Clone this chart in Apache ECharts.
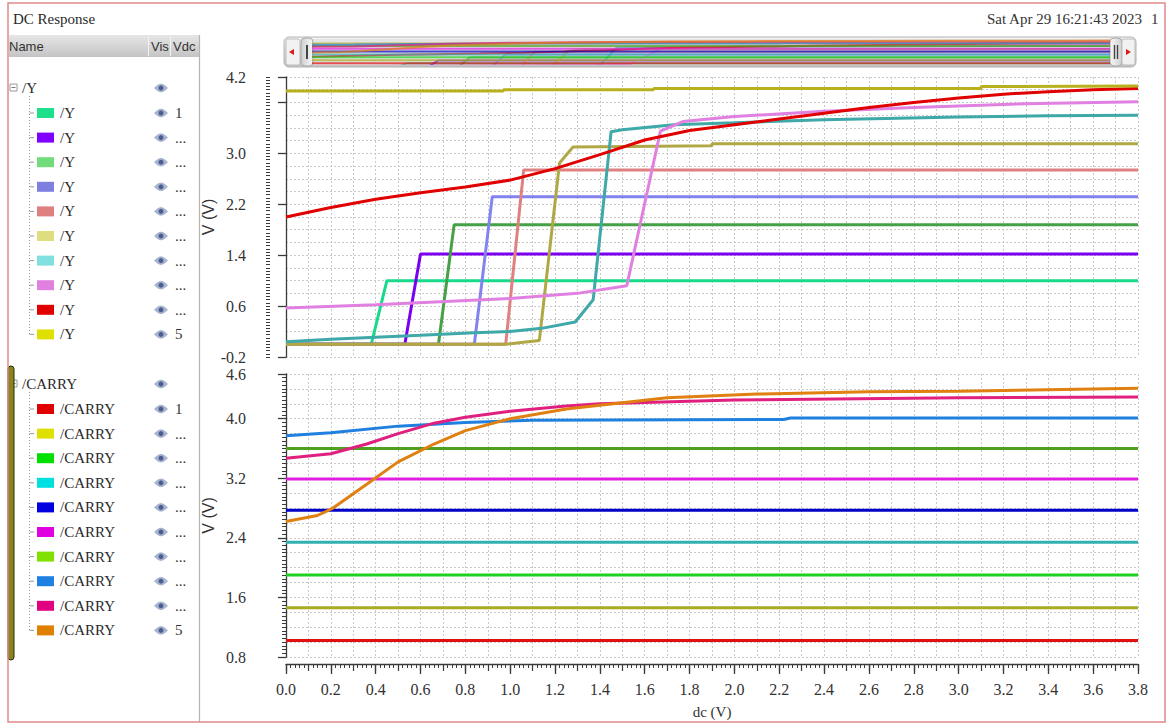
<!DOCTYPE html>
<html>
<head>
<meta charset="utf-8">
<title>DC Response</title>
<script src="https://cdn.jsdelivr.net/npm/echarts/dist/echarts.min.js"></script>
<style>
html, body { margin: 0; padding: 0; background: #fff; }
#main { width: 1166px; height: 724px; }
</style>
</head>
<body>
<div id="main"></div>
<script>
// ---- data (dc sweep in V, output in V) ----
var yNames = ['/Y', '/Y', '/Y', '/Y', '/Y', '/Y', '/Y', '/Y', '/Y', '/Y'];
var carryNames = ['/CARRY', '/CARRY', '/CARRY', '/CARRY', '/CARRY', '/CARRY', '/CARRY', '/CARRY', '/CARRY', '/CARRY'];
var vdcLabels = ['1', '...', '...', '...', '...', '...', '...', '...', '...', '5'];

var ySwatch = ['#1ee08a', '#7f00ff', '#72dc7a', '#7f7fe0', '#e07f7f', '#dede80', '#80e0e0', '#e080e0', '#e00000', '#e0e000'];
var yLine = ['#19d98a', '#7b00f0', '#46a046', '#8282f0', '#e08080', '#b0a844', '#3fa8a8', '#e080e0', '#e00000', '#b8b01c'];
var carrySwatch = ['#e00000', '#e0e000', '#00e000', '#00e0e0', '#0000e0', '#e000e0', '#80e000', '#1e80e0', '#e00080', '#e08000'];
var carryLine = ['#e01010', '#aaaa22', '#20d020', '#30b0b0', '#0000c8', '#e020e0', '#50a020', '#2080e0', '#e0207f', '#e08010'];

// /Y traces
var y1 = [[0, 0], [0.38, 0], [0.45, 1.0], [3.8, 1.0]];
var y2 = [[0, 0], [0.53, 0], [0.60, 1.42], [3.8, 1.42]];
var y3 = [[0, 0], [0.68, 0], [0.75, 1.88], [3.8, 1.88]];
var y4 = [[0, 0], [0.84, 0], [0.92, 2.32], [3.8, 2.32]];
var y5 = [[0, 0], [0.98, 0], [1.06, 2.74], [3.8, 2.74]];
var y6 = [[0, 0], [0.98, 0], [1.13, 0.06], [1.22, 2.85], [1.28, 3.1], [1.9, 3.12], [1.9, 3.15], [3.8, 3.15]];
var y7 = [[0, 0.04], [0.2, 0.08], [0.4, 0.11], [0.6, 0.14], [0.84, 0.18], [1.0, 0.2], [1.14, 0.25], [1.29, 0.35],
          [1.37, 0.7], [1.45, 3.34], [1.5, 3.37], [1.73, 3.45], [2.0, 3.48], [2.4, 3.53], [3.0, 3.57], [3.4, 3.59], [3.8, 3.6]];
var y8 = [[0, 0.57], [0.4, 0.62], [1.0, 0.72], [1.3, 0.8], [1.52, 0.92], [1.67, 3.35], [1.77, 3.5], [2.0, 3.58],
          [2.4, 3.66], [2.8, 3.72], [3.3, 3.78], [3.8, 3.81]];
var y9 = [[0, 2.0], [0.2, 2.15], [0.4, 2.28], [0.6, 2.38], [0.8, 2.47], [1.0, 2.58], [1.2, 2.76], [1.4, 2.98], [1.6, 3.21],
          [1.8, 3.36], [2.0, 3.45], [2.2, 3.54], [2.4, 3.63], [2.6, 3.72], [2.8, 3.8], [3.0, 3.87], [3.2, 3.93], [3.4, 3.97], [3.6, 4.0], [3.8, 4.02]];
var y10 = [[0, 3.98], [0.97, 3.98], [0.97, 4.0], [1.64, 4.0], [1.64, 4.02], [3.1, 4.02], [3.1, 4.05], [3.8, 4.06]];
var yTraces = [y1, y2, y3, y4, y5, y6, y7, y8, y9, y10];

// /CARRY traces
var c1 = [[0, 1.02], [3.8, 1.02]];
var c2 = [[0, 1.46], [3.8, 1.46]];
var c3 = [[0, 1.90], [3.8, 1.90]];
var c4 = [[0, 2.34], [3.8, 2.34]];
var c5 = [[0, 2.77], [3.8, 2.77]];
var c6 = [[0, 3.19], [3.8, 3.19]];
var c7 = [[0, 3.60], [3.8, 3.60]];
var c8 = [[0, 3.77], [0.2, 3.81], [0.5, 3.9], [0.8, 3.95], [1.1, 3.98], [2.22, 3.99], [2.25, 4.01], [3.8, 4.01]];
var c9 = [[0, 3.47], [0.2, 3.53], [0.36, 3.66], [0.5, 3.8], [0.66, 3.94], [0.8, 4.02], [1.0, 4.1], [1.25, 4.17],
          [1.4, 4.2], [2.0, 4.25], [3.0, 4.28], [3.8, 4.29]];
var c10 = [[0, 2.62], [0.14, 2.7], [0.21, 2.8], [0.36, 3.12], [0.5, 3.42], [0.66, 3.66], [0.8, 3.84], [1.0, 4.0],
           [1.25, 4.13], [1.4, 4.18], [1.7, 4.28], [2.1, 4.33], [2.6, 4.36], [3.0, 4.37], [3.6, 4.4], [3.8, 4.41]];
var carryTraces = [c1, c2, c3, c4, c5, c6, c7, c8, c9, c10];

// ---- chart ----
var serif = '"Liberation Serif", "DejaVu Serif", serif';
var sans = '"Liberation Sans", "DejaVu Sans", sans-serif';
var gridLine = { color: '#c9c9c9', width: 1, type: [2, 2] };
var axisDark = { color: '#3a3a3a', width: 1.3 };

var myChart = echarts.init(document.getElementById('main'), null, { renderer: 'svg' });

function fmt(v) {
	return v.toFixed(1);
}

var series = [];
yTraces.forEach(function (d, i) {
	series.push({
		type: 'line', name: yNames[i], xAxisIndex: 0, yAxisIndex: 0, data: d,
		symbol: 'none', silent: true, animation: false,
		lineStyle: { color: yLine[i], width: 3 }
	});
});
carryTraces.forEach(function (d, i) {
	series.push({
		type: 'line', name: carryNames[i], xAxisIndex: 1, yAxisIndex: 3, data: d,
		symbol: 'none', silent: true, animation: false,
		lineStyle: { color: carryLine[i], width: 3 }
	});
});
// overview strip in the scroll bar: same traces squashed
yTraces.concat(carryTraces).forEach(function (d, i) {
	series.push({
		type: 'line', xAxisIndex: 3, yAxisIndex: 6, data: d,
		symbol: 'none', silent: true, animation: false,
		lineStyle: { color: i < 10 ? yLine[i] : carryLine[i - 10], width: 2, opacity: 0.7 }
	});
});

// ---- left signal browser + window chrome (graphic) ----
var g = [];

function eye(cx, cy) {
	var pts = [];
	for (var k = 0; k <= 12; k++) {
		var t = k / 12;
		pts.push([cx - 6.5 + 13 * t, cy - 3.8 * Math.sin(Math.PI * t)]);
	}
	for (var k2 = 11; k2 >= 1; k2--) {
		var t2 = k2 / 12;
		pts.push([cx - 6.5 + 13 * t2, cy + 3.8 * Math.sin(Math.PI * t2)]);
	}
	g.push({ type: 'polygon', shape: { points: pts }, style: { fill: '#a9b6d3', stroke: '#8c9abc', lineWidth: 0.6 } });
	g.push({ type: 'circle', shape: { cx: cx, cy: cy, r: 2.5 }, style: { fill: '#4d5e8e' } });
}

function txt(x, y, s, font, align, color) {
	g.push({
		type: 'text', x: x, y: y,
		style: { text: s, font: font, fill: color || '#2a2a2a', textAlign: align || 'left', textVerticalAlign: 'middle' }
	});
}

function addGroup(title, headY, names, swatches) {
	var rowY0 = headY + 25, step = 24.6;
	// expander box
	g.push({ type: 'rect', shape: { x: 10, y: headY - 4, width: 7, height: 7 }, style: { fill: '#fff', stroke: '#999', lineWidth: 1 } });
	g.push({ type: 'line', shape: { x1: 11.5, y1: headY - 0.5, x2: 15.5, y2: headY - 0.5 }, style: { stroke: '#777', lineWidth: 1 } });
	txt(22, headY, title, '15px ' + serif);
	eye(161, headY);
	var lastY = rowY0 + step * (names.length - 1);
	g.push({ type: 'line', shape: { x1: 29.5, y1: headY + 8, x2: 29.5, y2: lastY }, style: { stroke: '#999', lineWidth: 1, lineDash: [1, 2] } });
	names.forEach(function (n, i) {
		var ry = rowY0 + step * i;
		g.push({ type: 'line', shape: { x1: 29.5, y1: ry, x2: 34, y2: ry }, style: { stroke: '#999', lineWidth: 1 } });
		g.push({ type: 'rect', shape: { x: 37, y: ry - 5, width: 17, height: 10 }, style: { fill: swatches[i] } });
		txt(60, ry, n, '15px ' + serif);
		eye(161, ry);
		txt(175, ry, vdcLabels[i], '15px ' + serif, 'left', '#333');
	});
}

// title row
txt(13, 19, 'DC Response', '15px ' + serif);
txt(1142, 19, 'Sat Apr 29 16:21:43 2023', '15px ' + serif, 'right', '#333');
txt(1151, 19, '1', '15px ' + serif, 'left', '#333');

// browser header
g.push({
	type: 'rect', shape: { x: 9, y: 35, width: 190, height: 22 },
	style: { fill: new echarts.graphic.LinearGradient(0, 0, 0, 1, [{ offset: 0, color: '#e6e6e6' }, { offset: 1, color: '#c4c4c4' }]) }
});
g.push({ type: 'line', shape: { x1: 148.5, y1: 36, x2: 148.5, y2: 56 }, style: { stroke: '#f2f2f2', lineWidth: 1 } });
g.push({ type: 'line', shape: { x1: 170.5, y1: 36, x2: 170.5, y2: 56 }, style: { stroke: '#f2f2f2', lineWidth: 1 } });
txt(9, 46, 'Name', '13px ' + sans, 'left', '#333');
txt(151, 46, 'Vis', '13px ' + sans, 'left', '#333');
txt(173, 46, 'Vdc', '13px ' + sans, 'left', '#333');
g.push({ type: 'line', shape: { x1: 199.5, y1: 35, x2: 199.5, y2: 722 }, style: { stroke: '#b4b4b4', lineWidth: 1.2 } });

addGroup('/Y', 88, yNames, ySwatch);
addGroup('/CARRY', 384, carryNames, carrySwatch);

// selected-group marker
g.push({ type: 'rect', shape: { x: 8, y: 366, width: 6, height: 294, r: 3 }, style: { fill: '#86861a', stroke: '#2a2a10', lineWidth: 1 } });

// scroll bar chrome around the overview strip
g.push({
	type: 'rect', z: 0, shape: { x: 284, y: 37, width: 852, height: 30, r: 5 },
	style: {
		fill: new echarts.graphic.LinearGradient(0, 0, 0, 1, [{ offset: 0, color: '#f6f6f6' }, { offset: 0.5, color: '#dcdcdc' }, { offset: 1, color: '#c2c2c2' }]),
		stroke: '#b2b2b2', lineWidth: 1
	}
});
g.push({ type: 'rect', z: 0, shape: { x: 312, y: 39, width: 798, height: 26 }, style: { fill: '#e4e4e4' } });
g.push({ type: 'rect', z: 1, shape: { x: 286, y: 39, width: 14, height: 26, r: 2 }, style: { fill: '#f2f2f2', stroke: '#bdbdbd', lineWidth: 1 } });
g.push({ type: 'polygon', z: 1, shape: { points: [[294, 49], [294, 55], [289, 52]] }, style: { fill: '#e01818' } });
g.push({
	type: 'rect', z: 1, shape: { x: 301, y: 38, width: 12, height: 28, r: 4 },
	style: { fill: new echarts.graphic.LinearGradient(1, 0, 0, 0, [{ offset: 0, color: '#f8f8f8' }, { offset: 1, color: '#cfcfcf' }]), stroke: '#a8a8a8' }
});
g.push({ type: 'line', z: 1, shape: { x1: 307, y1: 45, x2: 307, y2: 59 }, style: { stroke: '#444', lineWidth: 2 } });
g.push({
	type: 'rect', z: 1, shape: { x: 1110, y: 38, width: 12, height: 28, r: 4 },
	style: { fill: new echarts.graphic.LinearGradient(0, 0, 1, 0, [{ offset: 0, color: '#f8f8f8' }, { offset: 1, color: '#cfcfcf' }]), stroke: '#a8a8a8' }
});
g.push({ type: 'line', z: 1, shape: { x1: 1114.5, y1: 45, x2: 1114.5, y2: 59 }, style: { stroke: '#444', lineWidth: 1.4 } });
g.push({ type: 'line', z: 1, shape: { x1: 1117.5, y1: 45, x2: 1117.5, y2: 59 }, style: { stroke: '#444', lineWidth: 1.4 } });
g.push({ type: 'rect', z: 1, shape: { x: 1122, y: 39, width: 13, height: 26, r: 2 }, style: { fill: '#f2f2f2', stroke: '#bdbdbd', lineWidth: 1 } });
g.push({ type: 'polygon', z: 1, shape: { points: [[1126, 49], [1126, 55], [1131, 52]] }, style: { fill: '#e01818' } });

// outer window frame
g.push({ type: 'rect', z: 100, shape: { x: 8, y: 3, width: 1157, height: 719 }, style: { fill: 'none', stroke: '#e08a8a', lineWidth: 1.5 } });

function yLabelAxis(grid, min, max, hide) {
	return {
		type: 'value', gridIndex: grid, min: min, max: max, interval: 0.8, position: 'left', offset: 16,
		axisLine: { show: true, lineStyle: axisDark },
		axisTick: { show: true, inside: false, length: 8, lineStyle: axisDark },
		minorTick: { show: false },
		splitLine: { show: false },
		axisLabel: {
			show: true, margin: 24, fontFamily: serif, fontSize: 16, color: '#333',
			formatter: function (v) { return (hide !== null && Math.abs(v - hide) < 1e-6) ? '' : fmt(v); }
		},
		name: 'V (V)', nameLocation: 'middle', nameGap: 54, nameMoveOverlap: false,
		nameTextStyle: { fontFamily: sans, fontSize: 16, color: '#333' }
	};
}
function yTickAxis(grid, min, max) {
	return {
		type: 'value', gridIndex: grid, min: min, max: max, interval: 0.05, position: 'left', offset: 16,
		axisLine: { show: false }, axisLabel: { show: false }, splitLine: { show: false },
		axisTick: { show: true, inside: false, length: 4, lineStyle: { color: '#3a3a3a', width: 1 } }
	};
}
function yGridAxis(grid, min, max) {
	return {
		type: 'value', gridIndex: grid, min: min, max: max, interval: 0.2, position: 'left',
		axisLine: { show: false }, axisLabel: { show: false }, axisTick: { show: false },
		splitLine: { show: true, lineStyle: gridLine }
	};
}

option = {
	backgroundColor: '#ffffff',
	animation: false,
	grid: [
		{ left: 286, right: 28, top: 77, height: 280, outerBoundsMode: 'none' },
		{ left: 286, right: 28, top: 374, height: 283, outerBoundsMode: 'none' },
		{ left: 312, right: 56, top: 40, height: 24, outerBoundsMode: 'none' }
	],
	xAxis: [
		{
			type: 'value', gridIndex: 0, min: 0, max: 3.8, interval: 0.1,
			axisLine: { show: false }, axisTick: { show: false }, axisLabel: { show: false },
			splitLine: { show: true, lineStyle: gridLine }
		},
		{
			type: 'value', gridIndex: 1, min: 0, max: 3.8, interval: 0.2, position: 'bottom', offset: 7,
			axisLine: { show: true, lineStyle: axisDark },
			axisTick: { show: true, inside: false, length: 10, lineStyle: axisDark },
			minorTick: { show: true, splitNumber: 10, length: 4, lineStyle: { color: '#3a3a3a', width: 1 } },
			splitLine: { show: false },
			axisLabel: { show: true, margin: 17, fontFamily: serif, fontSize: 16, color: '#333', formatter: fmt },
			name: 'dc (V)', nameLocation: 'middle', nameGap: 40, nameMoveOverlap: false,
			nameTextStyle: { fontFamily: serif, fontSize: 15, color: '#333' }
		},
		{
			type: 'value', gridIndex: 1, min: 0, max: 3.8, interval: 0.1, position: 'bottom', offset: 7,
			axisLine: { show: false }, axisLabel: { show: false },
			axisTick: { show: true, inside: false, length: 7, lineStyle: { color: '#3a3a3a', width: 1.2 } },
			splitLine: { show: true, lineStyle: gridLine }
		},
		{ type: 'value', gridIndex: 2, min: 0, max: 3.8, show: false }
	],
	yAxis: [
		yLabelAxis(0, -0.2, 4.2, 3.8),
		yTickAxis(0, -0.2, 4.2),
		yGridAxis(0, -0.2, 4.2),
		yLabelAxis(1, 0.8, 4.6, null),
		yTickAxis(1, 0.8, 4.6),
		yGridAxis(1, 0.8, 4.6),
		{ type: 'value', gridIndex: 2, min: 0.9, max: 4.5, show: false }
	],
	graphic: { elements: g },
	series: series
};
myChart.setOption(option);
</script>
</body>
</html>
